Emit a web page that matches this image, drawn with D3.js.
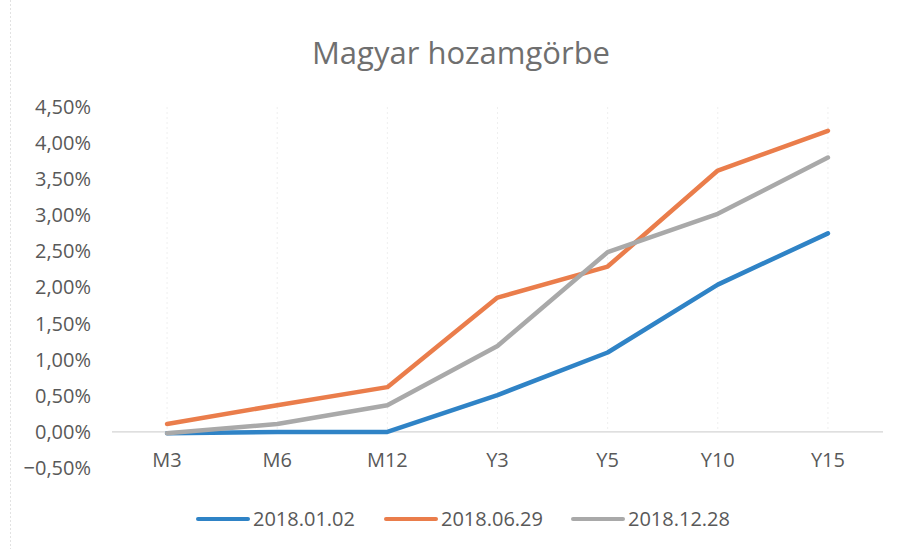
<!DOCTYPE html>
<html>
<head>
<meta charset="utf-8">
<script src="https://cdn.jsdelivr.net/npm/d3@7"></script>
<style>
  body { margin: 0; background: #fff; }
  svg text { font-family: "Open Sans", "Noto Sans", sans-serif; fill: #595959; }
</style>
</head>
<body>
<div id="chart"></div>
<script>
// Chart data
const categories = ["M3", "M6", "M12", "Y3", "Y5", "Y10", "Y15"];
const seriesNames = ["2018.01.02", "2018.06.29", "2018.12.28"];
const yields0102 = [-0.02, 0.00, 0.00, 0.51, 1.10, 2.04, 2.75];
const yields0629 = [0.11, 0.37, 0.62, 1.86, 2.29, 3.62, 4.17];
const yields1228 = [-0.02, 0.11, 0.37, 1.19, 2.49, 3.02, 3.80];
const yTicks = [-0.5, 0, 0.5, 1, 1.5, 2, 2.5, 3, 3.5, 4, 4.5];
const colors = ["#2f83c6", "#ea7d4b", "#a9a9a9"];

const series = [yields0102, yields0629, yields1228].map((values, i) => ({
    name: seriesNames[i], values: values, color: colors[i]
}));

const width = 899, height = 549;
const margin = {top: 107, right: 16, bottom: 81, left: 112};

const svg = d3.select("#chart")
    .append("svg")
    .attr("width", width)
    .attr("height", height);

// Outer frame edge (left side of the scanned chart box)
svg.append("line")
    .attr("x1", 10.5).attr("x2", 10.5)
    .attr("y1", 0).attr("y2", height)
    .attr("stroke", "#e2e2e2")
    .attr("stroke-dasharray", "2,2");

// Title
svg.append("text")
    .attr("x", 461)
    .attr("y", 64)
    .attr("text-anchor", "middle")
    .style("font-size", "31px")
    .style("fill", "#6f6f6f")
    .text("Magyar hozamgörbe");

const x = d3.scaleBand()
    .domain(categories)
    .range([margin.left, width - margin.right]);

const y = d3.scaleLinear()
    .domain([-0.5, 4.5])
    .range([height - margin.bottom, margin.top]);

const xc = d => x(d) + x.bandwidth() / 2;

// Faint vertical gridlines at categories
svg.append("g")
    .selectAll("line")
    .data(categories)
    .join("line")
    .attr("x1", d => xc(d)).attr("x2", d => xc(d))
    .attr("y1", y(4.5)).attr("y2", y(0))
    .attr("stroke", "#efefef")
    .attr("stroke-dasharray", "2,3");

// Y axis labels
const yAxis = d3.axisLeft(y)
    .tickValues(yTicks)
    .tickSize(0)
    .tickPadding(0)
    .tickFormat(d => d3.format(".2f")(d).replace(".", ",") + "%");

svg.append("g")
    .attr("transform", `translate(${margin.left - 21},0)`)
    .call(yAxis)
    .call(g => g.select(".domain").remove())
    .selectAll("text")
    .style("font-size", "20px");

// Zero line
svg.append("line")
    .attr("x1", margin.left).attr("x2", width - margin.right)
    .attr("y1", y(0)).attr("y2", y(0))
    .attr("stroke", "#d4d4d4")
    .attr("stroke-width", 1.2);

// X axis labels
const xAxis = d3.axisBottom(x).tickSize(0).tickPadding(0);
svg.append("g")
    .attr("transform", `translate(0,${y(-0.5) - 15})`)
    .call(xAxis)
    .call(g => g.select(".domain").remove())
    .selectAll("text")
    .style("font-size", "20px");

// Lines
const line = d3.line()
    .x((d, i) => xc(categories[i]))
    .y(d => y(d));

svg.append("g")
    .selectAll("path")
    .data(series)
    .join("path")
    .attr("fill", "none")
    .attr("stroke", d => d.color)
    .attr("stroke-width", 4.5)
    .attr("stroke-linejoin", "round")
    .attr("stroke-linecap", "round")
    .attr("d", d => line(d.values));

// Legend
const legendX = [198, 386, 573];
const legend = svg.append("g")
    .selectAll("g")
    .data(series)
    .join("g")
    .attr("transform", (d, i) => `translate(${legendX[i]},519)`);

legend.append("line")
    .attr("x1", 0).attr("x2", 50)
    .attr("stroke", d => d.color)
    .attr("stroke-width", 4)
    .attr("stroke-linecap", "round");

legend.append("text")
    .attr("x", 55)
    .attr("dy", "0.35em")
    .style("font-size", "20px")
    .text(d => d.name);
</script>
</body>
</html>
